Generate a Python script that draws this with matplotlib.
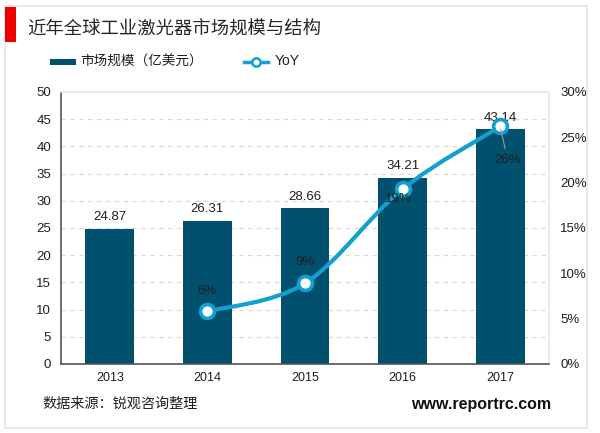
import matplotlib
matplotlib.use("Agg")
import matplotlib.pyplot as plt
from matplotlib.patches import Rectangle, PathPatch
from matplotlib.path import Path
from matplotlib.lines import Line2D

plt.rcParams['font.family'] = ['Liberation Sans', 'Noto Sans CJK SC', 'DejaVu Sans']

years = ['2013', '2014', '2015', '2016', '2017']
market = [24.87, 26.31, 28.66, 34.21, 43.14]
yoy_years = [1, 2, 3, 4]
yoy = [5.8, 8.9, 19.3, 26.2]
yoy_labels = ['6%', '9%', '19%', '26%']
left_ticks = list(range(0, 55, 5))
right_ticks = list(range(0, 35, 5))

W, H = 600, 433
fig = plt.figure(figsize=(W/100, H/100), dpi=100, facecolor='white')

def fx(x): return x / W
def fy(y): return 1 - y / H

fig.add_artist(Rectangle((fx(5), fy(428)), fx(582), 422/H, transform=fig.transFigure,
                         fill=False, ec='#e6e6e6', lw=1.3))
fig.add_artist(Rectangle((fx(5), fy(42)), fx(11), 35/H, transform=fig.transFigure,
                         fc='#f00000', ec='none'))

ax = fig.add_axes([fx(61), fy(364), fx(488), 272/H])
ax.set_xlim(-0.5, 4.5)
ax.set_ylim(0, 50)
DARK = '#00506e'
BLUE = '#12a0cf'
TXT = '#1f1f1f'
ax.bar(range(5), market, width=0.5, color=DARK, zorder=2)
ax.set_yticks(left_ticks)
ax.set_xticks(range(5), years)
ax.tick_params(axis='y', length=0, labelsize=9.5, labelcolor=TXT, pad=7)
ax.tick_params(axis='x', length=0, labelsize=9, labelcolor=TXT, pad=6)
for s in ('top', 'right'):
    ax.spines[s].set_color('#e6e6e6')
    ax.spines[s].set_linewidth(1.2)
for s in ('left', 'bottom'):
    ax.spines[s].set_color('#555555')
    ax.spines[s].set_linewidth(1.2)
ax.yaxis.grid(True, color='#d9d9d9', ls=(0, (4, 4)), lw=0.8, zorder=0)
ax.set_axisbelow(True)
for i, v in enumerate(market):
    ax.annotate(f'{v:.2f}', (i, v), xytext=(0, 4), textcoords='offset points',
                ha='center', va='bottom', fontsize=9.5, color=TXT, zorder=6)

ax2 = ax.twinx()
ax2.set_ylim(0, 30)
ax2.set_yticks(right_ticks, [f'{t}%' for t in right_ticks])
ax2.tick_params(axis='y', length=0, labelsize=9.5, labelcolor=TXT, pad=8)
for s in ax2.spines.values():
    s.set_visible(False)

# smooth curve through the YoY points (Catmull-Rom to Bezier)
pts = list(zip(yoy_years, yoy))
verts = [pts[0]]
codes = [Path.MOVETO]
for i in range(len(pts) - 1):
    p0 = pts[max(i - 1, 0)]
    p1 = pts[i]
    p2 = pts[i + 1]
    p3 = pts[min(i + 2, len(pts) - 1)]
    c1 = (p1[0] + (p2[0] - p0[0]) / 6, p1[1] + (p2[1] - p0[1]) / 6)
    c2 = (p2[0] - (p3[0] - p1[0]) / 6, p2[1] - (p3[1] - p1[1]) / 6)
    verts += [c1, c2, p2]
    codes += [Path.CURVE4] * 3
ax2.add_patch(PathPatch(Path(verts, codes), fc='none', ec=BLUE, lw=3, zorder=3))
ax2.plot(yoy_years, yoy, ls='none', marker='o', ms=10, mfc='white', mec=BLUE, mew=2.6, zorder=4)

offsets = [(0, 15), (0, 15), (-3, -7), (5, -24)]
for x, y, lab, off in zip(yoy_years, yoy, yoy_labels, offsets):
    ax2.annotate(lab, (x, y), xytext=off, textcoords='offset points', ha='center', va='center',
                 fontsize=9.5, color=TXT, zorder=6)
ax2.annotate('', (yoy_years[3], yoy[3]), xytext=(4, -18), textcoords='offset points',
             arrowprops=dict(arrowstyle='-', color='#999999', lw=0.8), zorder=5)

fig.text(fx(27), fy(30), '近年全球工业激光器市场规模与结构', fontsize=13.2, color='#262626', va='center', ha='left')

fig.add_artist(Rectangle((fx(50), fy(65)), fx(26), 6/H, transform=fig.transFigure, fc=DARK, ec='none'))
fig.text(fx(80), fy(62), '市场规模（亿美元）', fontsize=9.8, color=TXT, va='center', ha='left')
fig.add_artist(Line2D([fx(244), fx(268)], [fy(61.5)] * 2, transform=fig.transFigure, color=BLUE, lw=2.5))
fig.add_artist(Line2D([fx(256)], [fy(61.5)], transform=fig.transFigure, color=BLUE, marker='o', ms=6,
                      mfc='white', mec=BLUE, mew=1.8))
fig.text(fx(275), fy(61), 'YoY', fontsize=10, color=TXT, va='center', ha='left')

fig.text(fx(42), fy(404), '数据来源：锐观咨询整理', fontsize=10.2, color=TXT, va='center', ha='left')
fig.text(fx(551), fy(404), 'www.reportrc.com', fontsize=11.5, fontweight='bold', color='#111111', va='center', ha='right')

fig.savefig('out.png', dpi=100)
